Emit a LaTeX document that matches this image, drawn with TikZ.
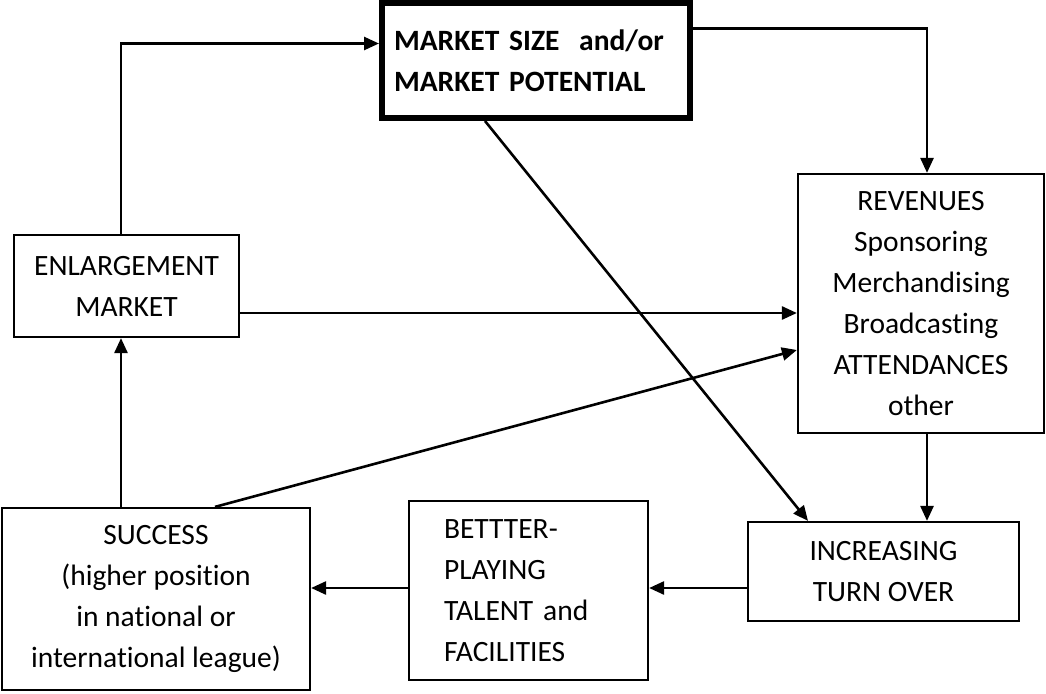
\documentclass[tikz,border=0pt]{standalone}
\usepackage{fontspec}
\setmainfont[Ligatures=NoCommon]{Carlito}
\usetikzlibrary{arrows.meta}
\begin{document}
\begin{tikzpicture}[x=1pt,y=-1pt,
  box/.style={draw, line width=2.2pt, inner sep=0pt, align=center, font=\fontsize{29.5}{41}\selectfont},
  arr/.style={line width=2.6pt, -{Triangle[length=15pt,width=13pt]}}]
\useasboundingbox (0,0) rectangle (1046,693);
\node[box, line width=6pt, font=\fontsize{29.5}{41}\selectfont\bfseries, align=left, text width=284pt, inner xsep=12pt, minimum height=115pt] (mkt) at (536,60.5){MARKET SIZE~ and/or\\MARKET POTENTIAL};
\node[box, minimum width=225pt, minimum height=102pt] (enl) at (126.5,286){ENLARGEMENT\\MARKET};
\node[box, minimum width=246pt, minimum height=259pt] (rev) at (921,303.5){REVENUES\\Sponsoring\\Merchandising\\Broadcasting\\ATTENDANCES\\other};
\node[box, minimum width=308pt, minimum height=182pt] (suc) at (156,599){SUCCESS\\(higher position\\in national or\\international league)};
\node[box, align=left, text width=169pt, inner xsep=35pt, minimum height=179pt] (bet) at (528.5,590.5){BETTTER-\\PLAYING\\TALENT and\\FACILITIES};
\node[box, minimum width=271pt, minimum height=99pt] (inc) at (883.5,571.5){INCREASING\\TURN OVER};
\coordinate (m1) at ([yshift=32pt]mkt.east);
\coordinate (r0) at ([xshift=6pt]rev.north);
\coordinate (e1) at ([yshift=-27pt]enl.east);
\coordinate (s1) at ([xshift=-35pt]suc.north);
\coordinate (r1) at ([xshift=6pt]rev.south);
\coordinate (i1) at ([yshift=-16.5pt]inc.west);
\coordinate (b1) at (bet.west |- i1);
\draw[arr] (enl.north -| s1) |- ([yshift=17pt]mkt.west);
\draw[arr] (m1) -| (r0);
\draw[arr] (e1) -- (e1 -| rev.west);
\draw[arr] ([xshift=59pt]suc.north) -- ([yshift=-46.5pt]rev.west);
\draw[arr] (s1) -- (s1 |- enl.south);
\draw[arr] ([xshift=-51pt]mkt.south) -- ([xshift=-75.5pt]inc.north);
\draw[arr] (r1) -- (r1 |- inc.north);
\draw[arr] (i1) -- (i1 -| bet.east);
\draw[arr] (b1) -- (b1 -| suc.east);
\end{tikzpicture}
\end{document}
